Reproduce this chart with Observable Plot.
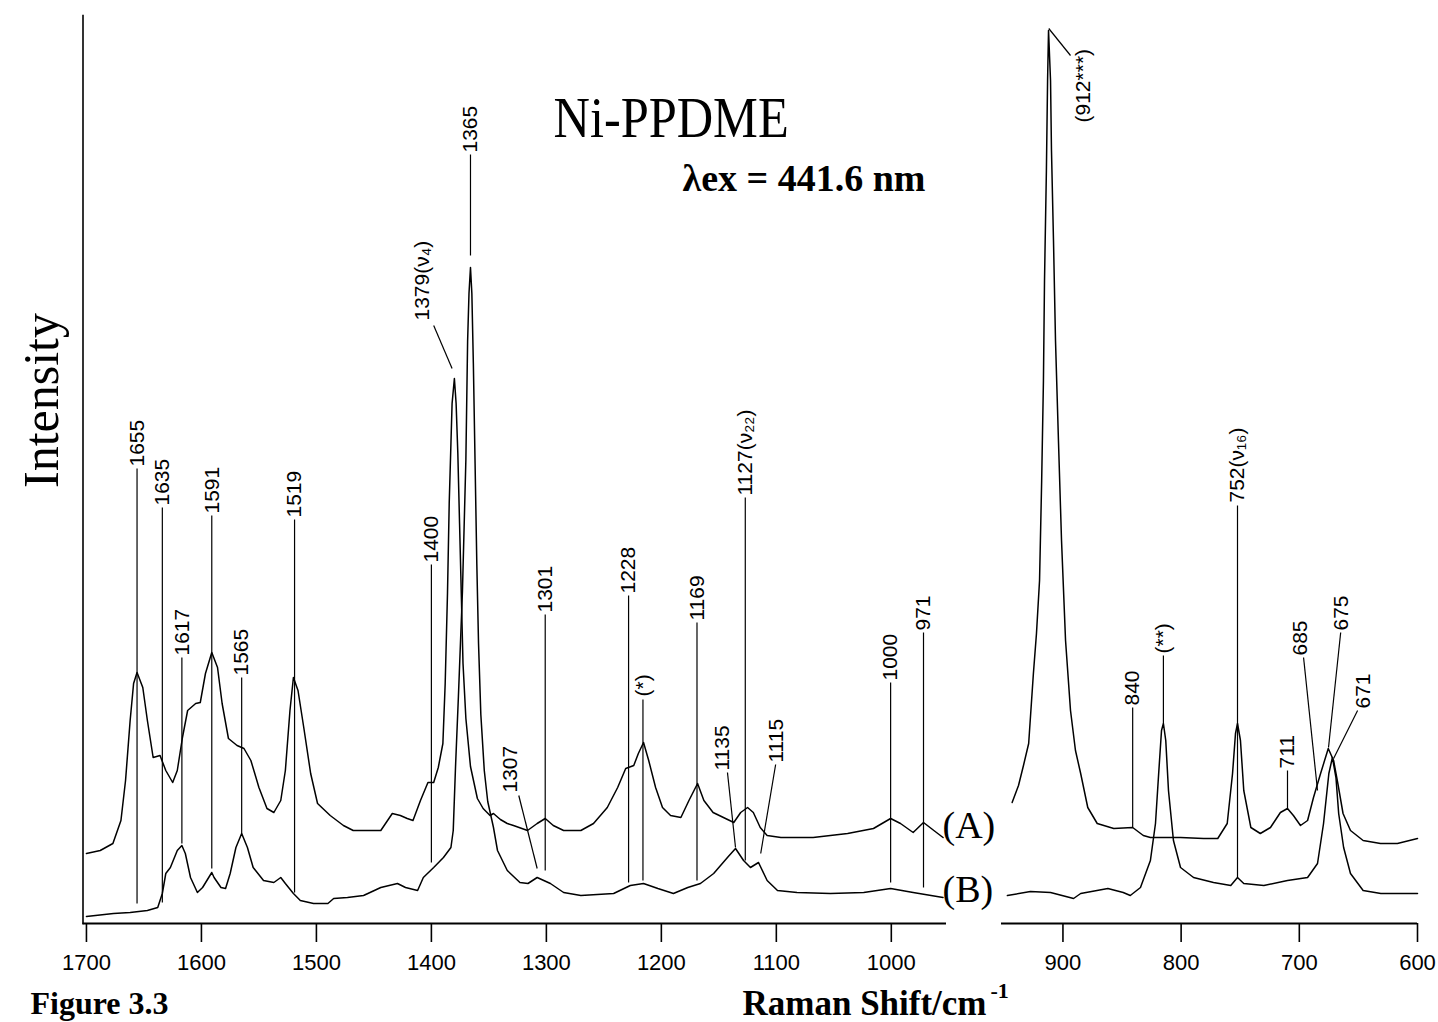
<!DOCTYPE html>
<html><head><meta charset="utf-8">
<script src="https://cdn.jsdelivr.net/npm/d3@7"></script>
<script src="https://cdn.jsdelivr.net/npm/@observablehq/plot@0.6"></script>
<style>
html,body{margin:0;padding:0;background:#fff;}
#chart{position:absolute;left:0;top:0;}
</style>
</head><body><div id="chart"></div>
<script>
// ---- axis ----
const xTicks = [1700, 1600, 1500, 1400, 1300, 1200, 1100, 1000, 900, 800, 700, 600];
const axisSegments = [[1703, 952], [951.99, 600]];   // broken Raman-shift axis

// ---- spectrum (A), left of the break: [cm-1, intensity] ----
const specA_left = [
 [1700,70],[1688,73],[1677,80],[1670,103],[1666,143],[1662,203],[1659,240],[1656,251],[1651,236],[1647,203],
 [1642,166],[1636,168],[1631,153],[1625,141],[1621,153],[1616.5,186],[1612,213],[1605,220],[1601,221],[1596.5,250],
 [1591,271],[1586,256],[1582,220],[1576.5,185],[1569,178],[1563,175],[1557,163],[1550,136],[1543,115],[1537,111],
 [1531,123],[1527,153],[1523,213],[1520,246],[1516,233],[1511,196],[1505,150],[1499,120],[1488,108],[1476.5,98],
 [1468,93],[1444,93],[1434,110],[1427,108],[1421,105],[1416,103],[1409.5,123],[1403,141],[1398,141],[1394,156],
 [1390,180],[1388,240],[1386,330],[1384.5,420],[1383,480],[1382,520],[1380,545],[1378.5,520],[1377,470],[1375.5,400],
 [1374,330],[1372.5,260],[1370,205],[1366,157],[1360,125],[1355,115],[1349,108],[1346,110],[1340,104],[1334,100],
 [1328.6,98],[1316.4,93],[1308,100],[1301,105],[1294,98],[1285,93],[1270,93],[1259,100],[1247,116],[1238,136],
 [1231,155],[1224,158],[1220,170],[1215.5,181],[1211,163],[1205,136],[1199,116],[1192,108],[1183,106],[1176,123],
 [1168.5,140],[1163,123],[1155,111],[1146,106],[1137,101],[1131,111],[1125,116],[1120,111],[1114,96],[1108,88],
 [1096,86],[1068,86],[1038,90],[1015.5,95],[1000.6,105],[992,100],[981,91],[972,101],[963,93],[955,86]
];
// ---- spectrum (A), right of the break ----
const specA_right = [
 [943,121],[937.6,138],[933.4,158],[929,180],[925,250],[922.4,290],[919.8,343],[918,443],[916.5,543],[915.6,643],
 [914,753],[913,843],[912.2,893],[910.5,843],[909.7,773],[908,683],[906.3,583],[903.8,483],[901.2,383],[897.8,283],
 [893.6,213],[889.4,173],[885,150],[879,116],[871,100],[857,95],[841,96],[832,88],[826,86],[800.5,86],
 [781,85],[769,85],[761,100],[756.5,150],[754,190],[752.3,200],[749.8,183],[747,133],[741,96],[733,90],
 [724.4,96],[716,111],[710,115],[705,108],[699,98],[693,103],[688,126],[682,150],[675.5,175],[671,163],
 [667.4,140],[663,110],[656.7,93],[646,83],[631.3,80],[617,80],[600,85]
];
// ---- spectrum (B), left of the break ----
const specB_left = [
 [1700,7],[1676.5,10],[1662,11],[1647,13],[1638,16],[1634,30],[1631,50],[1627,56],[1621,73],[1617,78],
 [1614,70],[1609.5,46],[1603.5,31],[1599,36],[1591,51],[1589,46],[1583,36],[1579,35],[1575,50],[1570,76],
 [1565,90],[1560,76],[1555,56],[1546,43],[1537,41],[1531,46],[1527,40],[1520,30],[1514,23],[1502.5,20],
 [1490,20],[1485,25],[1473,26],[1459,28],[1444,36],[1429.5,40],[1422.5,36],[1412,33],[1407,46],[1398,56],
 [1389.5,66],[1383,76],[1381,93],[1379,157],[1376.5,227],[1373,332],[1370,464],[1368.5,582],[1367.3,630],[1366,656],
 [1364.8,630],[1363.5,560],[1362,460],[1360.5,360],[1359,280],[1357,209],[1354,153],[1351,122],[1346,96],[1342.5,73],
 [1334,53],[1323,41],[1316,40],[1308,46],[1296.5,40],[1285,31],[1270,28],[1241.5,30],[1227,38],[1215.5,40],
 [1203,35],[1189.5,30],[1177,36],[1166,40],[1154.5,50],[1142.5,66],[1135.5,75],[1128.5,63],[1122.5,56],[1115.5,61],
 [1108,43],[1099,33],[1082,31],[1053,30],[1024,31],[1000.6,35],[981,31],[955,26]
];
// ---- spectrum (B), right of the break ----
const specB_right = [
 [947,28],[927.5,32],[910.5,31],[891,25],[885,30],[862,35],[849,31],[843,28],[834.4,36],[826,63],
 [821.7,100],[819,150],[816.6,193],[815,200],[813,183],[810.7,133],[806.5,83],[800.5,56],[789.5,46],[772.6,41],
 [758,38],[752.3,46],[747,40],[730,38],[710,43],[693,46],[684.6,60],[679.5,100],[675,150],[672,166],
 [669,146],[666.7,110],[662.5,76],[656.7,50],[646,33],[631,30],[600,30]
];

// ---- peak annotations: label text, label anchor, leader line ----
const peakLabels = [
 {text:"1655", lx:1656, ly:457, x1:1656, y1:455, x2:1656, y2:20},
 {text:"1635", lx:1634, ly:418, x1:1634, y1:416, x2:1634, y2:21},
 {text:"1617", lx:1617, ly:268, x1:1617, y1:266, x2:1617, y2:80},
 {text:"1591", lx:1591, ly:410, x1:1591, y1:408, x2:1591, y2:55},
 {text:"1565", lx:1565, ly:248, x1:1565, y1:246, x2:1565, y2:90},
 {text:"1519", lx:1519, ly:406, x1:1519, y1:404, x2:1519, y2:31},
 {text:"1400", lx:1400, ly:361, x1:1400, y1:359, x2:1400, y2:61},
 {text:"1379(ν₄)", lx:1408, ly:603, x1:1398, y1:598, x2:1382, y2:555},
 {text:"1365", lx:1366, ly:771, x1:1366, y1:769, x2:1366, y2:668},
 {text:"1301", lx:1301, ly:311, x1:1301, y1:309, x2:1301, y2:53},
 {text:"1307", lx:1331, ly:131, x1:1324, y1:128, x2:1308, y2:55},
 {text:"1228", lx:1228.5, ly:330, x1:1228.5, y1:328, x2:1228.5, y2:41},
 {text:"(*)", lx:1216, ly:227, x1:1216, y1:224, x2:1216, y2:43},
 {text:"1169", lx:1169, ly:303, x1:1169, y1:301, x2:1169, y2:43},
 {text:"1135", lx:1147, ly:153, x1:1142.5, y1:151, x2:1135.5, y2:76},
 {text:"1127(ν₂₂)", lx:1127, ly:428, x1:1127, y1:426, x2:1127, y2:63},
 {text:"1115", lx:1100, ly:161, x1:1100.6, y1:159, x2:1113.6, y2:70},
 {text:"1000", lx:1000.6, ly:243, x1:1000.6, y1:241, x2:1000.6, y2:41},
 {text:"971", lx:972, ly:293, x1:972, y1:291, x2:972, y2:36},
 {text:"(912***)", lx:882.6, ly:801, x1:912, y1:895, x2:893.6, y2:868},
 {text:"840", lx:841, ly:218, x1:841, y1:216, x2:841, y2:96},
 {text:"(**)", lx:815, ly:270, x1:815, y1:268, x2:815, y2:200},
 {text:"752(ν₁₆)", lx:752.3, ly:421, x1:752.3, y1:418, x2:752.3, y2:46},
 {text:"711", lx:710, ly:155, x1:710, y1:153, x2:710, y2:115},
 {text:"685", lx:699, ly:268, x1:696.4, y1:266, x2:684.6, y2:133},
 {text:"675", lx:664.3, ly:293, x1:665, y1:291, x2:675.3, y2:176},
 {text:"671", lx:645.7, ly:215, x1:650.7, y1:213, x2:671, y2:165}
];
const traceLabels = [{text:"(A)", x:955.5, y:98}, {text:"(B)", x:955.5, y:34}];

const serif = "Liberation Serif, Times New Roman, serif";
const lineStyle = {stroke: "black", strokeWidth: 1.5};

const plot = Plot.plot({
  width: 1438, height: 1022,
  marginLeft: 82.5, marginRight: 21, marginTop: 15, marginBottom: 99,
  style: {fontFamily: "Liberation Sans, Arial, sans-serif", fontSize: "21px", background: "white", color: "black"},
  x: {type: "linear", domain: [1703, 952, 951.99, 600], range: [82.5, 946, 1001, 1417]},
  y: {domain: [0, 908], range: [923, 15], axis: null},
  marks: [
    Plot.frame({anchor: "left", stroke: "black", strokeWidth: 1.6}),
    Plot.ruleY(axisSegments, {y: 0, x1: d => d[0], x2: d => d[1], stroke: "black", strokeWidth: 1.8}),
    Plot.axisX(xTicks, {anchor: "bottom", tickSize: 19, tickPadding: 12, label: null, tickFormat: d => String(d), fontSize: 22, strokeWidth: 1.6}),
    Plot.line(specA_left, {x: d => d[0], y: d => d[1], ...lineStyle}),
    Plot.line(specA_right, {x: d => d[0], y: d => d[1], ...lineStyle}),
    Plot.line(specB_left, {x: d => d[0], y: d => d[1], ...lineStyle}),
    Plot.line(specB_right, {x: d => d[0], y: d => d[1], ...lineStyle}),
    Plot.link(peakLabels, {x1: "x1", y1: "y1", x2: "x2", y2: "y2", stroke: "black", strokeWidth: 1.2}),
    Plot.text(peakLabels, {x: "lx", y: "ly", text: "text", rotate: -90, textAnchor: "start", lineAnchor: "middle", fontSize: 21, fill: "black"}),
    Plot.text(traceLabels, {x: "x", y: "y", text: "text", textAnchor: "start", lineAnchor: "middle", fontSize: 38, fontFamily: serif, fill: "black"}),
    Plot.text(["Ni-PPDME"], {frameAnchor: "top-left", dx: 470.5, dy: 104, text: d => d, textAnchor: "start", lineAnchor: "middle", fontSize: 56, fontFamily: serif, fill: "black", className: "squeeze"}),
    Plot.text(["λex = 441.6 nm"], {frameAnchor: "top-left", dx: 599.5, dy: 163, text: d => d, textAnchor: "start", lineAnchor: "middle", fontSize: 38, fontWeight: "bold", fontFamily: serif, fill: "black"}),
    Plot.text(["Intensity"], {frameAnchor: "top-left", dx: -41.5, dy: 385, rotate: -90, text: d => d, textAnchor: "middle", lineAnchor: "middle", fontSize: 50, fontFamily: serif, fill: "black"}),
    Plot.text(["Raman Shift/cm"], {frameAnchor: "bottom-left", dx: 659.5, dy: 80, text: d => d, textAnchor: "start", lineAnchor: "middle", fontSize: 35, fontWeight: "bold", fontFamily: serif, fill: "black"}),
    Plot.text(["-1"], {frameAnchor: "bottom-left", dx: 907.5, dy: 67, text: d => d, textAnchor: "start", lineAnchor: "middle", fontSize: 22, fontWeight: "bold", fontFamily: serif, fill: "black"}),
    Plot.text(["Figure 3.3"], {frameAnchor: "bottom-left", dx: -52.5, dy: 80, text: d => d, textAnchor: "start", lineAnchor: "middle", fontSize: 32, fontWeight: "bold", fontFamily: serif, fill: "black"})
  ]
});
plot.querySelectorAll("g.squeeze text").forEach(t => {
  const tr = t.getAttribute("transform") || "";
  t.setAttribute("transform", tr + " scale(0.9,1)");
});
document.getElementById("chart").appendChild(plot);
</script>
</body></html>
